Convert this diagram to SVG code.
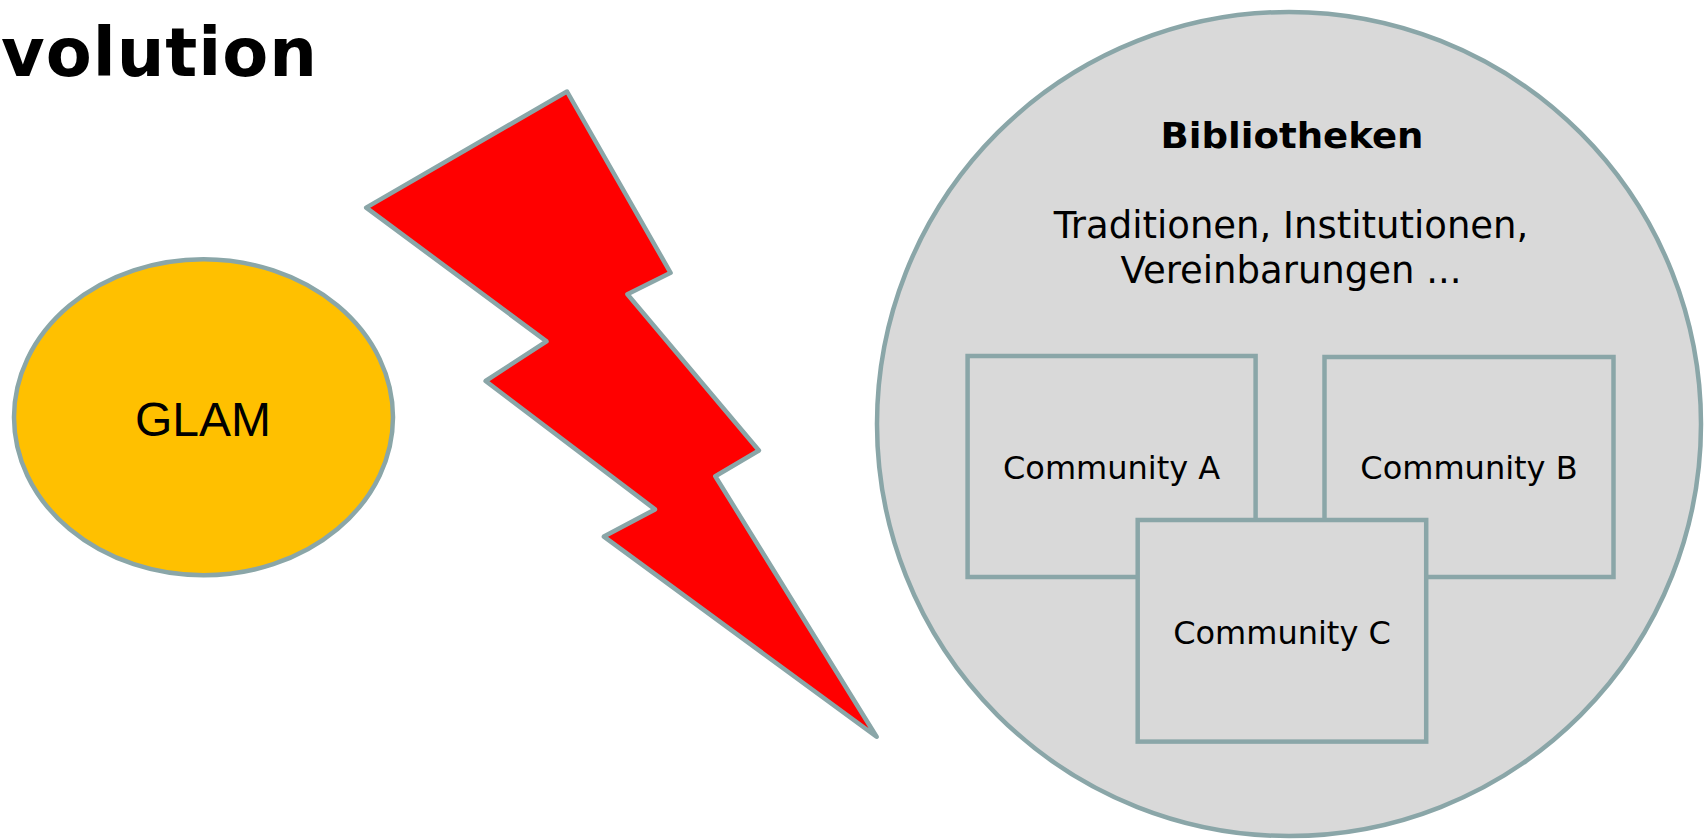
<svg xmlns="http://www.w3.org/2000/svg" width="1704" height="839" viewBox="0 0 1704 839">
  <style>
    .shape { stroke: #8AA6A8; stroke-width: 4.5; stroke-linejoin: round; }
    .txt { font-family: "DejaVu Sans", Verdana, sans-serif; fill: #000000; text-anchor: middle; }
    .box { fill: #D9D9D9; stroke: #8AA6A8; stroke-width: 4.5; }
  </style>
  <rect x="0" y="0" width="1704" height="839" fill="#FFFFFF"/>
  <g id="title">
    <text x="1" y="76" textLength="316" lengthAdjust="spacing" style="font-family: 'DejaVu Sans', Verdana, sans-serif; font-weight: bold; font-size: 67px; fill: #000;">volution</text>
  </g>
  <g id="glam">
    <ellipse class="shape" cx="203.5" cy="417.3" rx="189.5" ry="158" fill="#FFC000"/>
    <text class="txt" x="203" y="436" style="font-family: 'Liberation Sans', Arial, sans-serif; font-size: 48px;">GLAM</text>
  </g>
  <g id="lightning">
    <polygon class="shape" fill="#FF0000" points="567,91.5 670.6,272.8 627.4,294.3 758.9,450.5 715.3,476.2 876.6,736.8 603.9,536.6 655,509.4 485.6,381 546.5,341.4 366.2,207.6"/>
  </g>
  <g id="bibliotheken">
    <circle class="shape" cx="1289" cy="424" r="412" fill="#D9D9D9"/>
    <text class="txt" x="1292" y="148" textLength="263" lengthAdjust="spacingAndGlyphs" style="font-weight: bold; font-size: 36px;">Bibliotheken</text>
    <text class="txt" x="1291" y="238" style="font-size: 37px;">Traditionen, Institutionen,</text>
    <text class="txt" x="1291" y="283" style="font-size: 37px;">Vereinbarungen ...</text>
  </g>
  <g id="community-a">
    <rect class="box" x="967.6" y="356" width="288" height="221"/>
    <text class="txt" x="1111.6" y="479" style="font-size: 32px;">Community A</text>
  </g>
  <g id="community-b">
    <rect class="box" x="1324.5" y="357" width="289" height="220"/>
    <text class="txt" x="1469" y="479" style="font-size: 32px;">Community B</text>
  </g>
  <g id="community-c">
    <rect class="box" x="1137.7" y="520" width="288.5" height="221.6"/>
    <text class="txt" x="1282" y="644" style="font-size: 32px;">Community C</text>
  </g>
  <g id="connectors"></g>
</svg>
